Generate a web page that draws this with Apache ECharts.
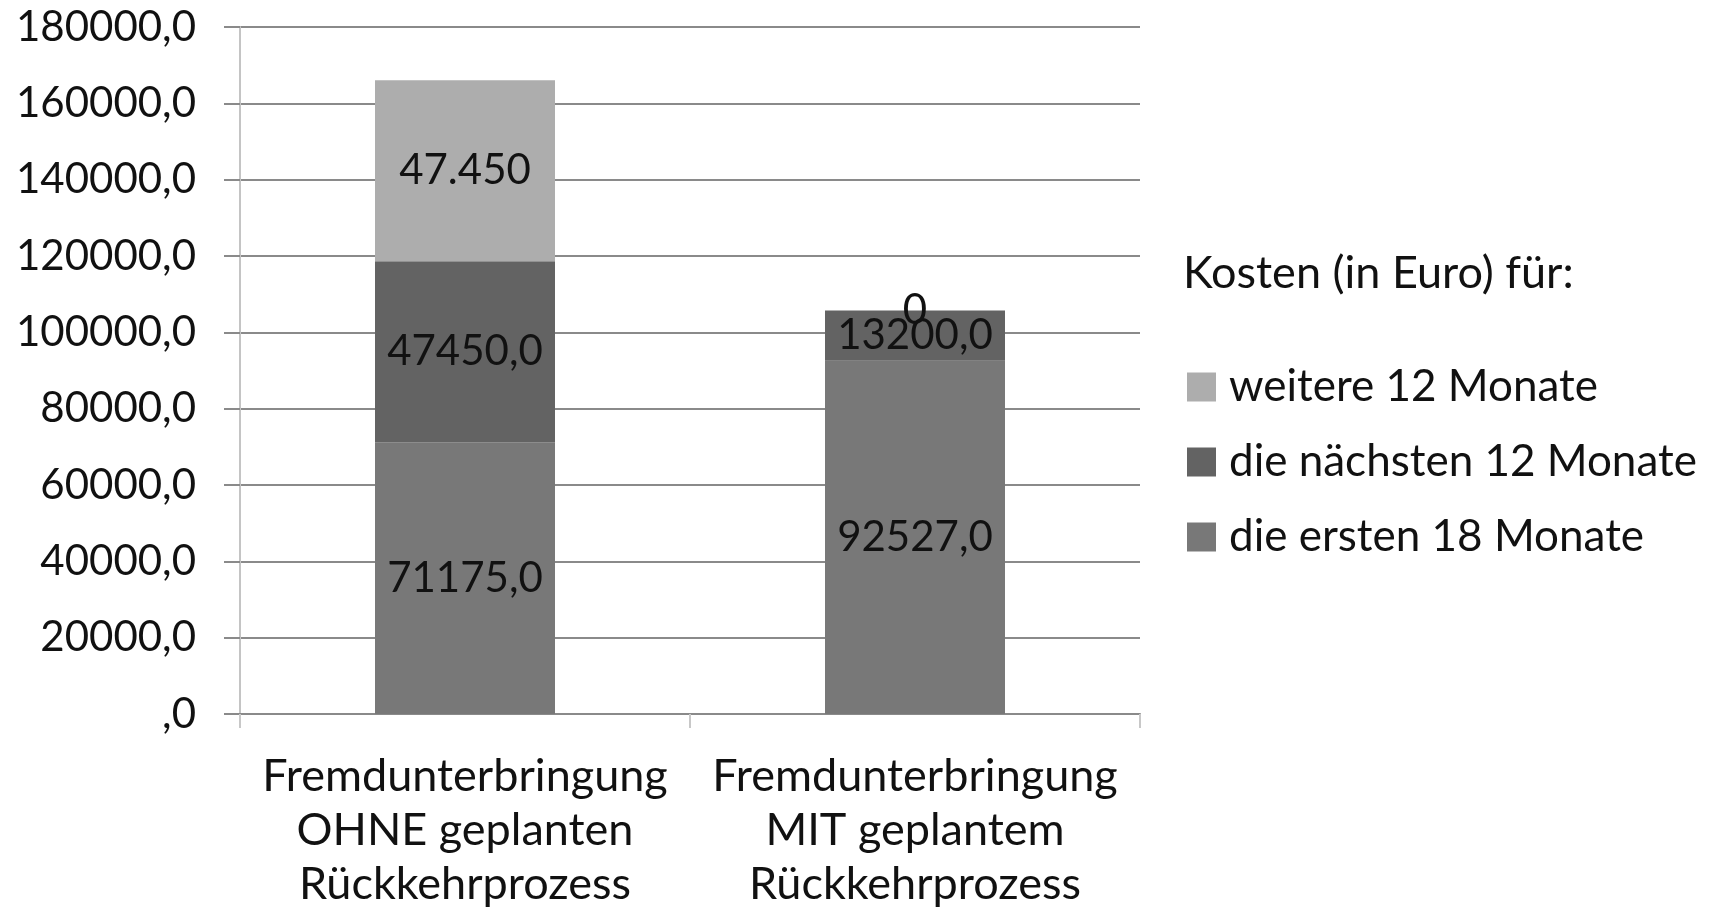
<!DOCTYPE html>
<html>
<head>
<meta charset="utf-8">
<script src="https://cdn.jsdelivr.net/npm/echarts@6/dist/echarts.min.js"></script>
<style>html,body{margin:0;padding:0;background:#fff}#c{width:1710px;height:914px}</style>
</head>
<body>
<div id="c"></div>
<script>
const categories = ['Fremdunterbringung\nOHNE geplanten\nRückkehrprozess', 'Fremdunterbringung\nMIT geplantem\nRückkehrprozess'];
const seriesNames = ['die ersten 18 Monate', 'die nächsten 12 Monate', 'weitere 12 Monate'];
const ersten18 = [71175, 92527];
const naechsten12 = [47450, 13200];
const weitere12 = [47450, 0];
const legendTitle = 'Kosten (in Euro) für:';
const yTicks = [0, 20000, 40000, 60000, 80000, 100000, 120000, 140000, 160000, 180000];

const FONT = 'Lato';
const commaFmt = v => (v === 0 ? ',0' : String(v) + ',0');
const dotFmt = v => String(v).replace(/\B(?=(\d{3})+(?!\d))/g, '.');

const chart = echarts.init(document.getElementById('c'), null, {renderer: 'canvas'});
const labelBase = {show: true, position: 'inside', color: '#111', fontFamily: FONT, fontSize: 42};
chart.setOption({
  animation: false,
  backgroundColor: '#fff',
  textStyle: {fontFamily: FONT},
  title: {
    text: legendTitle, left: 1183, top: 251, padding: 0,
    textStyle: {fontFamily: FONT, fontSize: 45, fontWeight: 'normal', color: '#111'}
  },
  legend: {
    orient: 'vertical', left: 1187, top: 361, padding: 0,
    data: [seriesNames[2], seriesNames[1], seriesNames[0]],
    icon: 'rect', itemWidth: 29, itemHeight: 29, itemGap: 23,
    textStyle: {fontFamily: FONT, fontSize: 44, color: '#111', lineHeight: 52, padding: [0, 0, 0, 8]}
  },
  grid: {left: 240, right: 570, top: 27, bottom: 200, containLabel: false},
  xAxis: {
    type: 'category', data: categories,
    axisLine: {show: true, lineStyle: {color: '#8a8a8a', width: 2}},
    axisTick: {show: true, length: 14, lineStyle: {color: '#c8c8c8', width: 2}},
    axisLabel: {fontFamily: FONT, fontSize: 45, color: '#111', lineHeight: 54, margin: 35, interval: 0}
  },
  yAxis: {
    type: 'value', min: 0, max: 180000, interval: 20000,
    axisLine: {show: true, lineStyle: {color: '#c4c4c4', width: 2}},
    axisTick: {show: true, length: 16, lineStyle: {color: '#8a8a8a', width: 2}},
    splitLine: {show: true, lineStyle: {color: '#8a8a8a', width: 2}},
    axisLabel: {fontFamily: FONT, fontSize: 42, color: '#111', margin: 44,
      formatter: v => yTicks.includes(v) ? commaFmt(v) : ''}
  },
  series: [
    {name: seriesNames[0], type: 'bar', stack: 'k', data: ersten18, barWidth: '40%',
      itemStyle: {color: '#787878'}, label: Object.assign({}, labelBase, {formatter: p => commaFmt(p.value)})},
    {name: seriesNames[1], type: 'bar', stack: 'k', data: naechsten12, barWidth: '40%',
      itemStyle: {color: '#636363'}, label: Object.assign({}, labelBase, {formatter: p => commaFmt(p.value)})},
    {name: seriesNames[2], type: 'bar', stack: 'k', data: weitere12, barWidth: '40%',
      itemStyle: {color: '#adadad'}, label: Object.assign({}, labelBase, {formatter: p => dotFmt(p.value)})}
  ]
});
</script>
</body>
</html>
